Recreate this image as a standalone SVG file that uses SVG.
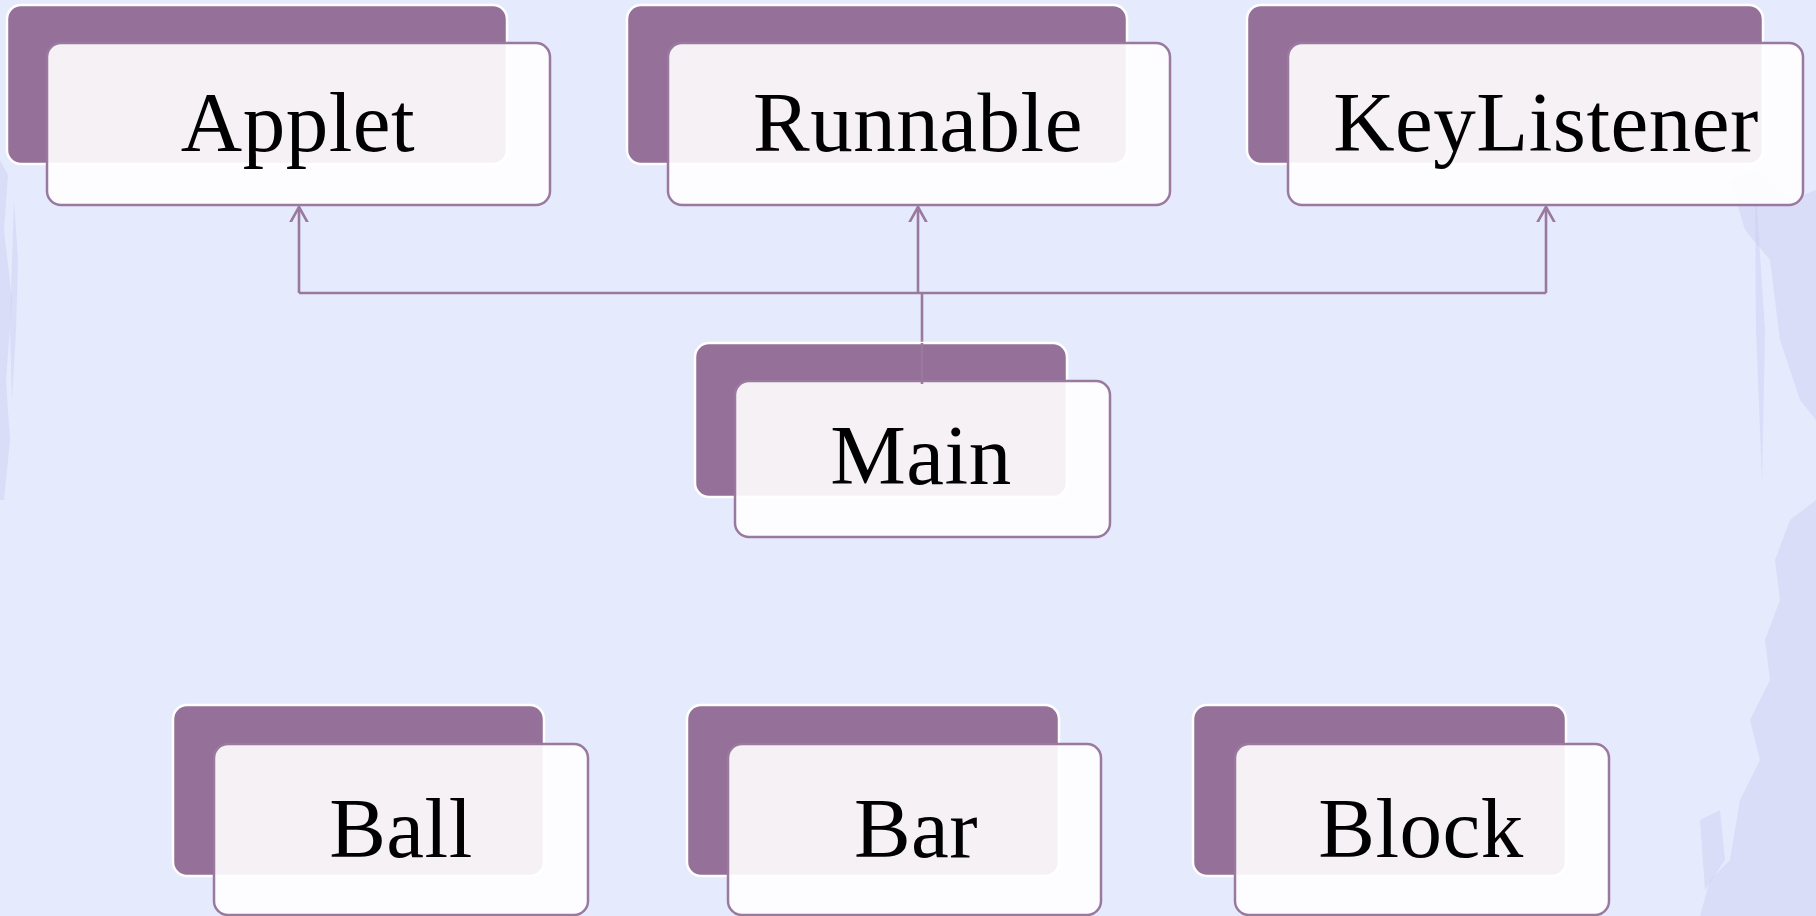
<svg xmlns="http://www.w3.org/2000/svg" width="1816" height="916" viewBox="0 0 1816 916">
<defs>
<style>
.back{fill:#957099;stroke:#ffffff;stroke-width:2.5}
.front{fill:#ffffff;fill-opacity:0.9;stroke:#9a79a0;stroke-width:2.5}
.lbl{font-family:"Liberation Serif","Times New Roman",serif;font-size:85px;fill:#000;text-anchor:middle;letter-spacing:0.5px}
.conn{fill:none;stroke:#9a79a0;stroke-width:2.6}
.deco{fill:#c3c6ea;opacity:0.35}
</style>
<marker id="open" markerUnits="userSpaceOnUse" markerWidth="30" markerHeight="30" viewBox="-15 -15 30 30" refX="0" refY="0" orient="auto">
<path d="M-18,-10 L0,0 L-18,10" fill="none" stroke="#9a79a0" stroke-width="2.6"/>
</marker>
</defs>
<rect width="1816" height="916" fill="#e6eafd"/>
<g id="decoration">
<path class="deco" d="M0,160 L8,175 L4,230 L12,300 L6,380 L10,440 L4,500 L0,500 Z"/>
<path class="deco" d="M14,200 L18,260 L16,330 L12,400 L10,330 L12,260 Z" opacity="0.25"/>
<path class="deco" d="M1730,180 L1760,170 L1790,200 L1816,190 L1816,420 L1800,400 L1780,340 L1770,260 L1745,230 Z" opacity="0.25"/>
<path class="deco" d="M1790,520 L1816,500 L1816,916 L1700,916 L1710,880 L1730,860 L1740,800 L1760,760 L1750,720 L1770,680 L1765,640 L1780,600 L1775,560 Z"/>
<path class="deco" d="M1700,820 L1720,810 L1725,860 L1705,890 Z" opacity="0.3"/>
<path class="deco" d="M1755,180 L1765,330 L1762,480 L1756,330 Z" opacity="0.25"/>
</g>
<g id="connectors">
<path class="conn" d="M299,293 H1546"/>
<path class="conn" d="M299,293 V207" marker-end="url(#open)"/>
<path class="conn" d="M918,293 V207" marker-end="url(#open)"/>
<path class="conn" d="M1546,293 V207" marker-end="url(#open)"/>
<path class="conn" d="M922,384 V293"/>
</g>
<g id="node-applet">
<rect class="back" x="7" y="5" width="500" height="159" rx="14"/>
<rect class="front" x="47" y="43" width="503" height="162" rx="14"/>
<text class="lbl" x="298" y="151">Applet</text>
</g>
<g id="node-runnable">
<rect class="back" x="627" y="5" width="500" height="159" rx="14"/>
<rect class="front" x="668" y="43" width="502" height="162" rx="14"/>
<text class="lbl" x="918" y="151">Runnable</text>
</g>
<g id="node-keylistener">
<rect class="back" x="1247" y="5" width="516" height="159" rx="14"/>
<rect class="front" x="1288" y="43" width="515" height="162" rx="14"/>
<text class="lbl" x="1546" y="151">KeyListener</text>
</g>
<g id="node-main">
<rect class="back" x="695" y="343" width="372" height="154" rx="14"/>
<rect class="front" x="735" y="381" width="375" height="156" rx="14"/>
<text class="lbl" x="921" y="484">Main</text>
</g>
<path class="conn" d="M922,384 V343"/>
<g id="node-ball">
<rect class="back" x="173" y="705" width="371" height="171" rx="14"/>
<rect class="front" x="214" y="744" width="374" height="171" rx="14"/>
<text class="lbl" x="401" y="857">Ball</text>
</g>
<g id="node-bar">
<rect class="back" x="687" y="705" width="372" height="171" rx="14"/>
<rect class="front" x="728" y="744" width="373" height="171" rx="14"/>
<text class="lbl" x="916" y="857">Bar</text>
</g>
<g id="node-block">
<rect class="back" x="1193" y="705" width="373" height="171" rx="14"/>
<rect class="front" x="1235" y="744" width="374" height="171" rx="14"/>
<text class="lbl" x="1421" y="857">Block</text>
</g>
</svg>
